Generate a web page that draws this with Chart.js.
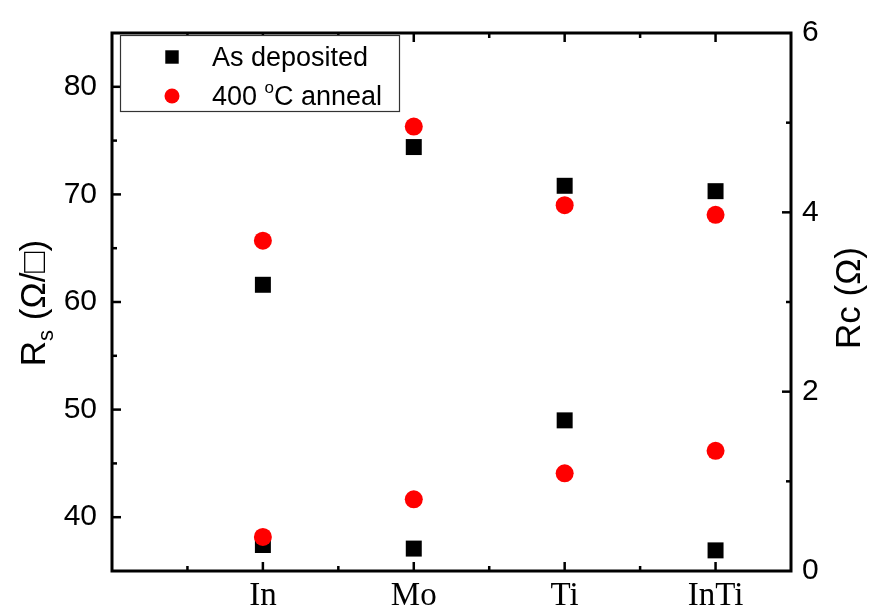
<!DOCTYPE html>
<html>
<head>
<meta charset="utf-8">
<script src="https://cdn.jsdelivr.net/npm/chart.js@4.4.0/dist/chart.umd.min.js"></script>
<style>
  html, body { margin: 0; padding: 0; background: #fff; }
  #wrap { width: 870px; height: 615px; }
</style>
</head>
<body>
<div id="wrap"><canvas id="myChart"></canvas></div>
<script>
// data
const categories = ['In', 'Mo', 'Ti', 'InTi'];
const rsAsDeposited = [61.6, 74.4, 70.8, 70.3];
const rsAnnealed = [65.7, 76.3, 69.0, 68.1];
const rcAsDeposited = [0.29, 0.25, 1.68, 0.23];
const rcAnnealed = [0.38, 0.80, 1.09, 1.34];
const rsTicks = [40, 50, 60, 70, 80];
const rcTicks = [0, 2, 4, 6];

const toPoints = arr => arr.map((v, i) => ({ x: i + 1, y: v }));

// ticks inward, frame, axis titles, legend box
const framePlugin = {
  id: 'framePlugin',
  afterDatasetsDraw(chart) {
    const ctx = chart.ctx;
    const a = chart.chartArea;
    const sx = chart.scales.x, sl = chart.scales.yRs, sr = chart.scales.yRc;
    ctx.save();
    ctx.strokeStyle = '#000';
    ctx.lineWidth = 2.5;
    // x ticks bottom + top
    for (let v = 0.5; v < 4.5; v += 0.5) {
      const px = sx.getPixelForValue(v);
      const len = Number.isInteger(v) ? 9 : 5;
      ctx.beginPath();
      ctx.moveTo(px, a.bottom); ctx.lineTo(px, a.bottom - len);
      ctx.moveTo(px, a.top); ctx.lineTo(px, a.top + len);
      ctx.stroke();
    }
    // left ticks
    for (let v = 40; v <= 80; v += 5) {
      const py = sl.getPixelForValue(v);
      const len = v % 10 === 0 ? 9 : 5;
      ctx.beginPath(); ctx.moveTo(a.left, py); ctx.lineTo(a.left + len, py); ctx.stroke();
    }
    // right ticks
    for (let v = 1; v <= 5; v += 1) {
      const py = sr.getPixelForValue(v);
      const len = v % 2 === 0 ? 9 : 5;
      ctx.beginPath(); ctx.moveTo(a.right, py); ctx.lineTo(a.right - len, py); ctx.stroke();
    }
    // frame
    ctx.lineWidth = 3;
    ctx.strokeRect(a.left, a.top, a.right - a.left, a.bottom - a.top);

    // left title: R_s (Ω/□)
    ctx.fillStyle = '#000';
    ctx.textBaseline = 'alphabetic';
    ctx.textAlign = 'left';
    const big = '35px "Liberation Sans", Arial, sans-serif';
    const sub = '22px "Liberation Sans", Arial, sans-serif';
    ctx.font = big; const wR = ctx.measureText('R').width; const wRest = ctx.measureText(' (Ω/□)').width;
    ctx.font = sub; const wS = ctx.measureText('s').width;
    const total = wR + wS + wRest;
    ctx.save();
    ctx.translate(45, 303);
    ctx.rotate(-Math.PI / 2);
    let x0 = -total / 2;
    ctx.font = big; ctx.fillText('R', x0, 0); x0 += wR;
    ctx.font = sub; ctx.fillText('s', x0, 8); x0 += wS;
    ctx.font = big; ctx.fillText(' (Ω/□)', x0, 0);
    ctx.restore();

    // right title
    ctx.save();
    ctx.translate(860, 298);
    ctx.rotate(-Math.PI / 2);
    ctx.font = big; ctx.textAlign = 'center';
    ctx.fillText('Rc (Ω)', 0, 0);
    ctx.restore();

    // legend box
    ctx.fillStyle = '#fff';
    ctx.fillRect(120.5, 35.5, 279, 76);
    ctx.lineWidth = 1.2;
    ctx.strokeStyle = '#333';
    ctx.strokeRect(120.5, 35.5, 279, 76);
    Chart.helpers.drawPoint(ctx, { pointStyle: 'rect', radius: 9.5, borderWidth: 0 }, 172, 57);
    ctx.fillStyle = '#000';
    ctx.fill();
    ctx.beginPath();
    ctx.fillStyle = '#ff0000';
    ctx.arc(172, 96, 7.5, 0, Math.PI * 2);
    ctx.fill();
    ctx.fillStyle = '#000';
    ctx.textAlign = 'left';
    const lf = '27px "Liberation Sans", Arial, sans-serif';
    ctx.font = lf;
    ctx.fillText('As deposited', 212, 66);
    let lx = 212;
    ctx.fillText('400 ', lx, 105); lx += ctx.measureText('400 ').width;
    ctx.font = '17px "Liberation Sans", Arial, sans-serif';
    ctx.fillText('o', lx, 93); lx += ctx.measureText('o').width;
    ctx.font = lf;
    ctx.fillText('C anneal', lx, 105);
    ctx.restore();
  }
};

const data = {
  datasets: [{
    label: 'As deposited',
    data: toPoints(rsAsDeposited),
    yAxisID: 'yRs',
    pointStyle: 'rect',
    pointRadius: 11.3,
    backgroundColor: '#000',
    borderWidth: 0,
    order: 2
  }, {
    label: '400 °C anneal',
    data: toPoints(rsAnnealed),
    yAxisID: 'yRs',
    pointStyle: 'circle',
    pointRadius: 9,
    backgroundColor: '#ff0000',
    borderWidth: 0,
    order: 1
  }, {
    label: 'As deposited',
    data: toPoints(rcAsDeposited),
    yAxisID: 'yRc',
    pointStyle: 'rect',
    pointRadius: 11.3,
    backgroundColor: '#000',
    borderWidth: 0,
    order: 2
  }, {
    label: '400 °C anneal',
    data: toPoints(rcAnnealed),
    yAxisID: 'yRc',
    pointStyle: 'circle',
    pointRadius: 9,
    backgroundColor: '#ff0000',
    borderWidth: 0,
    order: 1
  }]
};

const config = {
  type: 'scatter',
  data: data,
  options: {
    responsive: true,
    maintainAspectRatio: false,
    animation: false,
    layout: { padding: { top: 24, left: 0, right: 0, bottom: 0 } },
    plugins: {
      legend: { display: false },
      tooltip: { enabled: false }
    },
    elements: { point: { hoverRadius: 9 } },
    scales: {
      x: {
        type: 'linear',
        position: 'bottom',
        min: 0,
        max: 4.5,
        grid: { display: false, drawTicks: false },
        border: { display: false },
        afterBuildTicks(scale) { scale.ticks = categories.map((c, i) => ({ value: i + 1 })); },
        afterFit(scale) { scale.height = 44; },
        ticks: {
          padding: 6,
          color: '#000',
          font: { family: '"Liberation Serif", "Times New Roman", serif', size: 33 },
          callback: v => categories[v - 1] || ''
        }
      },
      yRs: {
        type: 'linear',
        position: 'left',
        min: 35,
        max: 85,
        grid: { display: false, drawTicks: false },
        border: { display: false },
        afterBuildTicks(scale) { scale.ticks = rsTicks.map(v => ({ value: v })); },
        afterFit(scale) { scale.width = 112; },
        ticks: {
          padding: 15,
          color: '#000',
          font: { family: '"Liberation Sans", Arial, sans-serif', size: 30 }
        }
      },
      yRc: {
        type: 'linear',
        position: 'right',
        min: 0,
        max: 6,
        grid: { display: false, drawTicks: false },
        border: { display: false },
        afterBuildTicks(scale) { scale.ticks = rcTicks.map(v => ({ value: v })); },
        afterFit(scale) { scale.width = 79; },
        ticks: {
          padding: 11,
          color: '#000',
          font: { family: '"Liberation Sans", Arial, sans-serif', size: 30 }
        }
      }
    }
  },
  plugins: [framePlugin]
};

const myChart = new Chart(document.getElementById('myChart'), config);
</script>
</body>
</html>
